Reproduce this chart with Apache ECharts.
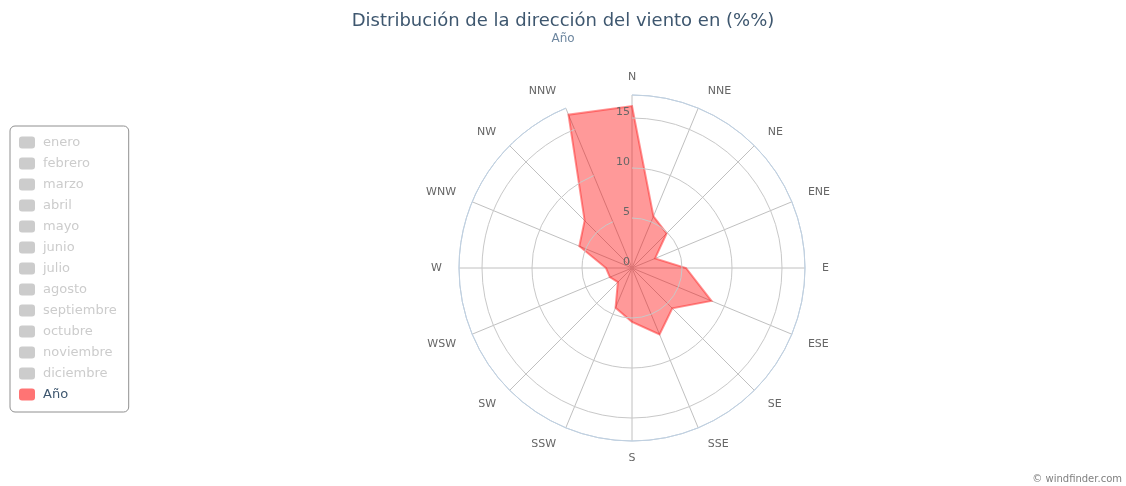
<!DOCTYPE html>
<html>
<head>
<meta charset="utf-8">
<script src="https://cdn.jsdelivr.net/npm/echarts@6/dist/echarts.min.js"></script>
<style>
html,body{margin:0;padding:0;background:#fff;}
#chart{width:1126px;height:486px;}
</style>
</head>
<body>
<div id="chart"></div>
<script>
const directions = ['N','NNE','NE','ENE','E','ESE','SE','SSE','S','SSW','SW','WSW','W','WNW','NW','NNW'];
const yearValues = [16.2, 5.6, 4.9, 2.5, 5.4, 8.6, 5.7, 7.2, 5.4, 4.3, 2.0, 2.4, 2.6, 5.7, 6.7, 16.6];
const months = ['enero','febrero','marzo','abril','mayo','junio','julio','agosto','septiembre','octubre','noviembre','diciembre'];
const yearName = 'Año';
const radiusTicks = [0, 5, 10, 15];
const radiusMax = 17.3;

const FONT = 'DejaVu Sans';
const chart = echarts.init(document.getElementById('chart'), null, {renderer: 'canvas'});

const yearData = yearValues.map((v, i) => [v, i]);

const selected = {};
months.forEach(m => selected[m] = false);
selected[yearName] = true;

const angleData = directions.map((d, i) => {
  let pad = [0, 0, 0, 0];
  if (i > 0 && i < 8) pad = [0, 0, 0, 5];
  else if (i > 8) pad = [0, 5, 0, 0];
  return {value: d, textStyle: {padding: pad}};
});

const series = months.map(m => ({
  name: m, type: 'line', coordinateSystem: 'polar', data: [], color: '#ff7474'
}));
series.push({
  name: yearName,
  type: 'custom',
  coordinateSystem: 'polar',
  data: yearData,
  encode: {radius: 0, angle: 1},
  color: '#ff7474',
  silent: true,
  z: 3,
  renderItem: function (params, api) {
    if (params.dataIndex !== 0) return null;
    const pts = yearData.map(d => api.coord(d));
    return {
      type: 'polygon',
      shape: {points: pts},
      style: {fill: 'rgba(255,0,0,0.4)', stroke: 'rgba(255,40,40,0.5)', lineWidth: 2, lineJoin: 'miter'}
    };
  }
});

chart.setOption({
  animation: false,
  backgroundColor: '#ffffff',
  title: [{
    text: 'Distribución de la dirección del viento en (%%)',
    subtext: yearName,
    left: 'center',
    top: 7,
    itemGap: 3,
    textStyle: {fontFamily: FONT, fontSize: 18, fontWeight: 'normal', color: '#3e576f'},
    subtextStyle: {fontFamily: FONT, fontSize: 12, color: '#6d869f'}
  }, {
    text: '© windfinder.com',
    right: 4,
    bottom: 2,
    padding: 0,
    textStyle: {fontFamily: FONT, fontSize: 10, fontWeight: 'normal', color: '#808080'}
  }],
  legend: {
    orient: 'vertical',
    left: 10,
    top: 126,
    padding: [10, 12, 11, 9],
    borderColor: '#909090',
    borderWidth: 1,
    borderRadius: 5,
    itemWidth: 16,
    itemHeight: 12,
    itemGap: 8,
    icon: 'roundRect',
    inactiveColor: '#cccccc',
    selected: selected,
    data: months.concat([yearName]),
    textStyle: {fontFamily: FONT, fontSize: 13, color: '#3e576f', padding: [0, 0, 0, 3]}
  },
  polar: {center: [632, 268], radius: 173},
  angleAxis: {
    type: 'category',
    data: angleData,
    startAngle: 90,
    clockwise: true,
    boundaryGap: false,
    axisLine: {show: true, lineStyle: {color: '#c0d0e0', width: 1}},
    axisTick: {show: false},
    axisLabel: {margin: 12, fontFamily: FONT, fontSize: 11, color: '#666666'},
    splitLine: {show: true, lineStyle: {color: '#c0c0c0', width: 1}}
  },
  radiusAxis: {
    type: 'value',
    min: 0,
    max: radiusMax,
    interval: 5,
    axisLine: {show: false},
    axisTick: {show: false},
    axisLabel: {
      margin: 2,
      verticalAlign: 'bottom',
      fontFamily: FONT, fontSize: 11, color: '#666666',
      formatter: v => radiusTicks.indexOf(v) >= 0 ? String(v) : ''
    },
    splitLine: {show: true, lineStyle: {color: ['#c8c8c8','#c8c8c8','#c8c8c8','#c8c8c8','#c0d0e0'], width: 1}},
    z: 10
  },
  series: series
});
</script>
</body>
</html>
